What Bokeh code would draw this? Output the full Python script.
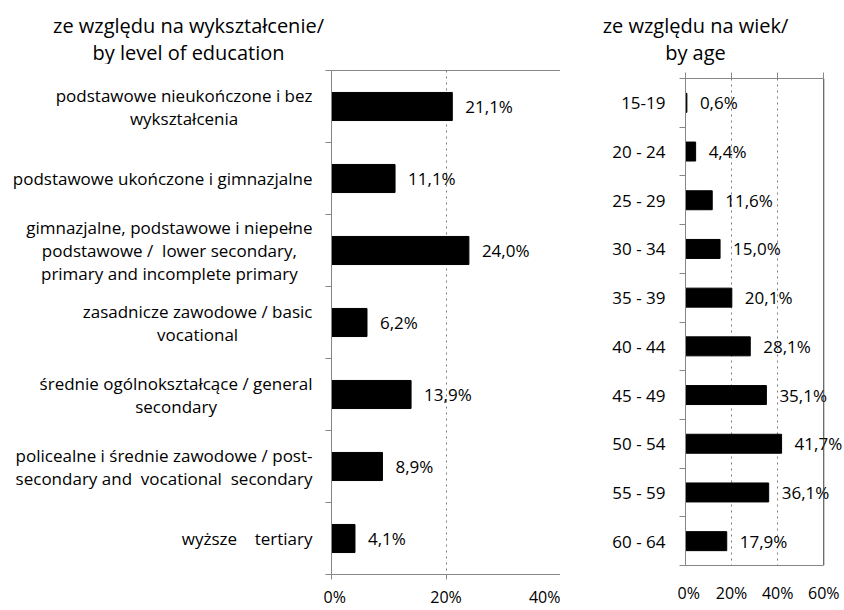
from bokeh.plotting import figure
from bokeh.models import (Range1d, FixedTicker, PrintfTickFormatter, Label,
                          ColumnDataSource, LinearAxis, Span)
from bokeh.layouts import row, column
from bokeh.embed import file_html
from bokeh.resources import INLINE
from bokeh.core.properties import value

FONT = "Open Sans"
GREY = "#868686"

# ---- data ----
edu_title = ["ze względu na wykształcenie/", "by level of education"]
edu_categories = [
    "podstawowe nieukończone i bez\nwykształcenia",
    "podstawowe ukończone i gimnazjalne",
    "gimnazjalne, podstawowe i niepełne\npodstawowe /  lower secondary,\nprimary and incomplete primary",
    "zasadnicze zawodowe / basic\nvocational",
    "średnie ogólnokształcące / general\nsecondary",
    "policealne i średnie zawodowe / post-\nsecondary and  vocational  secondary",
    "wyższe    tertiary",
]
edu_values = [21.1, 11.1, 24.0, 6.2, 13.9, 8.9, 4.1]
edu_ticks = [0, 20, 40]

age_title = ["ze względu na wiek/", "by age"]
age_categories = ["15-19", "20 - 24", "25 - 29", "30 - 34", "35 - 39",
                  "40 - 44", "45 - 49", "50 - 54", "55 - 59", "60 - 64"]
age_values = [0.6, 4.4, 11.6, 15.0, 20.1, 28.1, 35.1, 41.7, 36.1, 17.9]
age_ticks = [0, 20, 40, 60]


def pct(v):
    return f"{v:.1f}".replace(".", ",") + "%"


def keep_spaces(s):
    # keep runs of spaces visible in SVG text
    return s.replace("  ", " \u00a0")


def blank(width, height, x_range, y_range, **borders):
    f = figure(width=width, height=height, x_range=x_range, y_range=y_range,
               x_axis_location=None, y_axis_location=None,
               output_backend="svg", toolbar_location=None, **borders)
    f.outline_line_color = None
    f.background_fill_color = "white"
    f.border_fill_color = "white"
    f.xgrid.visible = False
    f.ygrid.visible = False
    return f


def make_column(categories, values, ticks, title, *, col_w, title_h, title_cx,
                title_ys, lab_w, lab_dx, chart_w, body_h, top, bottom, x_end,
                x_tick_out, x_standoff, top_ticks):
    n = len(categories)
    yr = Range1d(n, 0)
    ys = [i + 0.5 for i in range(n)]
    src = ColumnDataSource(dict(y=ys, v=values, t=[pct(v) for v in values],
                                c=[keep_spaces(c) for c in categories]))

    # title block
    t = blank(col_w, title_h, Range1d(0, 1), Range1d(0, 1), min_border=0)
    for line, yy in zip(title, title_ys):
        t.add_layout(Label(x=title_cx, y=title_h - yy, x_units="screen",
                           y_units="screen", text=line, text_align="center",
                           text_baseline="middle", text_font=FONT,
                           text_font_size="20px", text_color="black"))

    # category labels (right-anchored blocks, centred lines)
    lab = blank(lab_w, body_h, Range1d(0, 1), yr, min_border_left=0,
                min_border_right=0, min_border_top=top, min_border_bottom=bottom)
    lab.text(x=1, y="y", text="c", source=src, x_offset=lab_dx,
             anchor=value("center_right"), text_align="center",
             text_baseline="middle", text_font=value(FONT),
             text_font_size=value("17px"), text_line_height=1.0,
             text_color="black")

    # chart
    p = figure(width=chart_w, height=body_h, x_range=Range1d(0, x_end), y_range=yr,
               output_backend="svg", toolbar_location=None,
               min_border_left=8, min_border_right=0,
               min_border_top=top, min_border_bottom=bottom)
    p.background_fill_color = "white"
    p.border_fill_color = "white"
    p.outline_line_color = None

    p.hbar(y="y", left=0, right="v", height=0.39, source=src,
           fill_color="black", line_color="black", line_width=1)
    p.text(x="v", y="y", text="t", source=src, x_offset=13,
           text_baseline="middle", text_align="left",
           text_font=value(FONT), text_font_size=value("17px"),
           text_color="black")

    # left axis: ticks at band boundaries only
    ya = p.yaxis[0]
    ya.ticker = FixedTicker(ticks=[], minor_ticks=list(range(n + 1)))
    ya.major_tick_out = 0
    ya.major_tick_in = 0
    ya.minor_tick_out = 6
    ya.minor_tick_in = 0
    ya.minor_tick_line_color = GREY
    ya.axis_line_color = GREY
    ya.major_label_standoff = 0
    p.ygrid.visible = False

    # bottom axis
    xa = p.xaxis[0]
    xa.ticker = FixedTicker(ticks=ticks)
    xa.bounds = (ticks[0], ticks[-1])
    xa.formatter = PrintfTickFormatter(format="%d%%")
    xa.major_tick_out = x_tick_out
    xa.major_tick_in = 0
    xa.major_tick_line_color = GREY
    xa.axis_line_color = GREY
    xa.major_label_standoff = x_standoff
    xa.major_label_text_font = FONT
    xa.major_label_text_font_size = "16px"
    xa.major_label_text_color = "black"

    p.xgrid.ticker = FixedTicker(ticks=ticks[1:-1])
    p.xgrid.grid_line_color = "#7a7a7a"
    p.xgrid.grid_line_dash = "dotted"
    p.xgrid.grid_line_width = 1

    # top edge of the plot area (with small ticks on the age chart)
    ta = LinearAxis(ticker=FixedTicker(ticks=[], minor_ticks=ticks),
                    bounds=(ticks[0], ticks[-1]))
    ta.major_label_standoff = 0
    ta.major_tick_out = 0
    ta.major_tick_in = 0
    ta.minor_tick_out = 6 if top_ticks else 0
    ta.minor_tick_in = 0
    ta.minor_tick_line_color = GREY
    ta.axis_line_color = GREY
    p.add_layout(ta, "above")

    # right edge of the plot area
    p.add_layout(Span(location=ticks[-1], dimension="height",
                      line_color="#3a3a3a", line_width=1))

    return column(t, row(lab, p))


col_edu = make_column(edu_categories, edu_values, edu_ticks, edu_title,
                      col_w=560, title_h=64, title_cx=188, title_ys=[24.5, 51.5],
                      lab_w=323, lab_dx=-11, chart_w=237, body_h=546,
                      top=6, bottom=33, x_end=40, x_tick_out=5, x_standoff=6,
                      top_ticks=False)

col_age = make_column(age_categories, age_values, age_ticks, age_title,
                      col_w=284, title_h=70, title_cx=135, title_ys=[24.5, 51.5],
                      lab_w=117, lab_dx=-12, chart_w=167, body_h=540,
                      top=8, bottom=45, x_end=69, x_tick_out=0, x_standoff=16,
                      top_ticks=True)

layout = row(col_edu, col_age)
open("out.html", "w").write(file_html(layout, INLINE))
